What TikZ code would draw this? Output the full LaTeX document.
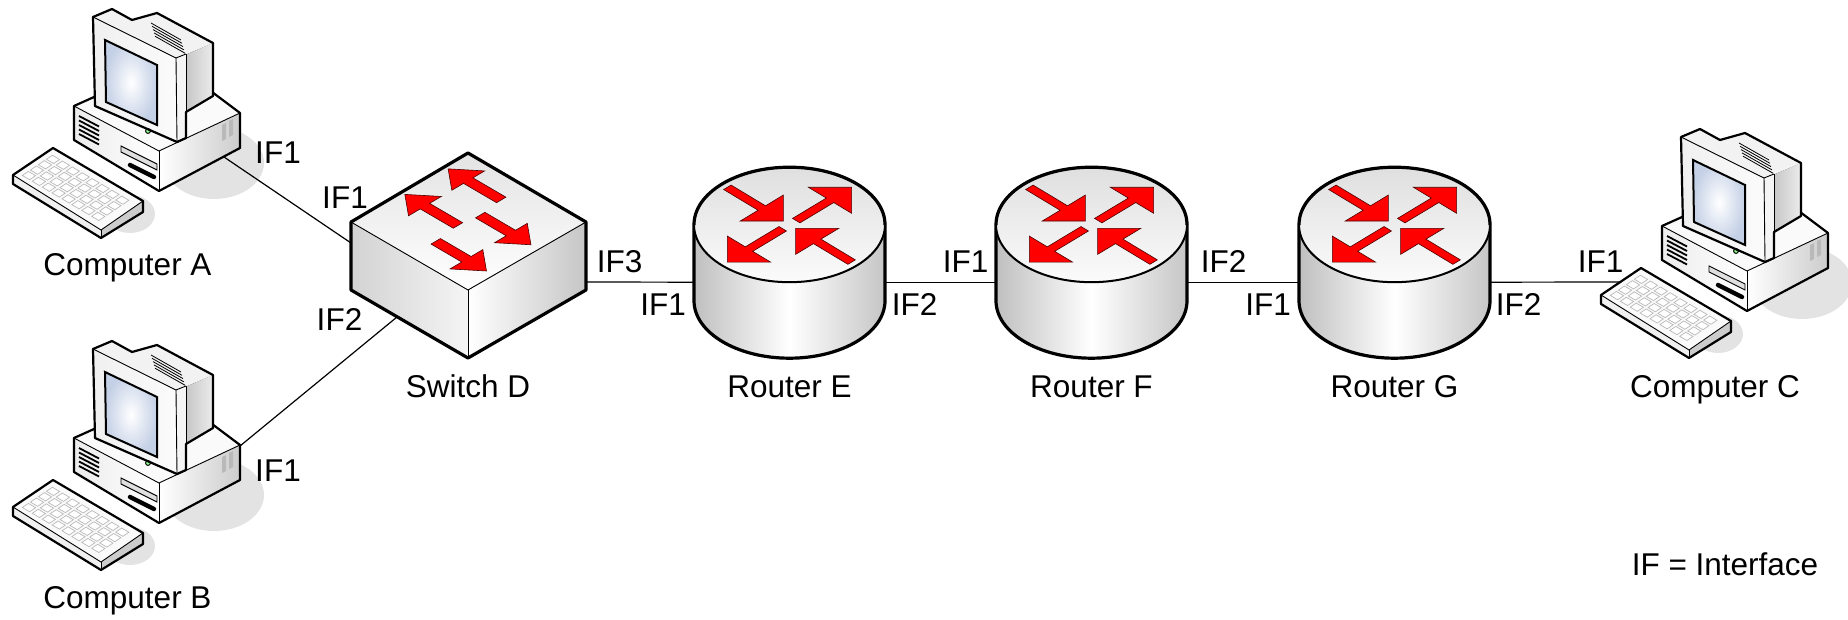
\documentclass[tikz,border=0pt]{standalone}
\usepackage{fontspec}
\setmainfont{Liberation Sans}
\usepackage{tikz}
\usetikzlibrary{calc}

\definecolor{screenblue}{RGB}{196,208,230}
\newcommand{\lblfont}{\fontsize{15.75}{18}\selectfont}

\tikzset{
  link/.style={line width=0.6pt},
  devout/.style={line width=1.6pt, line join=round},
  pcout/.style={line width=1.1pt, line join=round},
  thinedge/.style={line width=0.45pt},
  redarrow/.style={fill=red, draw=black!70!red, line width=0.3pt},
  keycap/.style={fill=white, draw=gray!55, line width=0.35pt},
  iflabel/.style={anchor=base, inner sep=0pt, font=\lblfont},
  devlabel/.style={anchor=base, inner sep=0pt, font=\lblfont},
  pics/router/.style={code={
    \draw[devout, left color=gray!50, right color=gray!45, middle color=white]
      (-95.5,0) -- (-95.5,76) arc[start angle=180, end angle=0, x radius=95.5, y radius=57.5] -- (95.5,0) -- cycle;
    \draw[line width=1pt, top color=gray!25, bottom color=gray!3] (0,0) ellipse [x radius=95.5, y radius=57.5];
    \draw[devout] (-95.5,0) arc[start angle=180, end angle=0, x radius=95.5, y radius=-57.5];
    \begin{scope}[yscale=0.602, scale=95.5]
      \foreach \ang in {45,225}
        \draw[redarrow, rotate=\ang] (0.1,-0.055) -- (0.6,-0.055) -- (0.6,-0.32) -- (0.92,0) -- (0.6,0.32) -- (0.6,0.055) -- (0.1,0.055) -- cycle;
      \foreach \ang in {135,315}
        \draw[redarrow, rotate=\ang] (0.92,-0.055) -- (0.41,-0.055) -- (0.41,-0.32) -- (0.09,0) -- (0.41,0.32) -- (0.41,0.055) -- (0.92,0.055) -- cycle;
    \end{scope}
    \coordinate (-west) at (-95.5,57.5);
    \coordinate (-east) at (95.5,57.5);
  }},
  pics/switchbox/.style={code={
    \fill[left color=gray!35, right color=gray!8] (-117,69) -- (0,137) -- (0,205) -- (-117,137) -- cycle;
    \fill[left color=white, right color=gray!45] (0,137) -- (118,69) -- (118,137) -- (0,205) -- cycle;
    \fill[top color=gray!22, bottom color=white] (0,0) -- (118,69) -- (0,137) -- (-117,69) -- cycle;
    \draw[thinedge] (-117,69) -- (0,137) -- (118,69);
    \draw[thinedge] (0,137) -- (0,205);
    \draw[devout] (0,0) -- (118,69) -- (118,137) -- (0,205) -- (-117,137) -- (-117,69) -- cycle;
    \begin{scope}[x={(59pt,-34.5pt)}, y={(-58.5pt,-34.5pt)}]
      \foreach \t in {0.20,0.57}
        \draw[redarrow] (0.48,\t-0.04) -- (0.20,\t-0.04) -- (0.20,\t-0.14) -- (0.03,\t) -- (0.20,\t+0.14) -- (0.20,\t+0.04) -- (0.48,\t+0.04) -- cycle;
      \foreach \t in {0.40,0.78}
        \draw[redarrow] (0.50,\t-0.04) -- (0.76,\t-0.04) -- (0.76,\t-0.14) -- (0.93,\t) -- (0.76,\t+0.14) -- (0.76,\t+0.04) -- (0.50,\t+0.04) -- cycle;
    \end{scope}
    \coordinate (-west) at (-117,90);
    \coordinate (-south) at (-71,164);
    \coordinate (-east) at (118,129);
  }},
  pics/computer/.style={code={
    \fill[gray!22] (214,163) ellipse [x radius=50, y radius=36];
    \fill[gray!22] (130,214) ellipse [x radius=25, y radius=19];
    % keyboard
    \fill[gray!12] (13,175) -- (101,230) -- (101,238) -- (13,184) -- cycle;
    \fill[gray!40] (101,230) -- (143,201) -- (143,212) -- (101,238) -- cycle;
    \fill[gray!4] (13,175) -- (53,148) -- (143,201) -- (101,230) -- cycle;
    \begin{scope}[shift={(13,175)}, x={(45pt,-26.5pt)}, y={(20pt,13.5pt)}]
      \foreach \i in {0,...,7}
        \foreach \j in {0,...,3}
          \draw[keycap] ({0.06+0.11*\i},{0.1+0.2*\j}) -- ++(0.08,0) -- ++(0,0.15) -- ++(-0.08,0) -- cycle;
    \end{scope}
    \draw[thinedge] (13,175) -- (101,230) -- (143,201);
    \draw[thinedge] (101,230) -- (101,238);
    \draw[pcout] (13,175) -- (53,148) -- (143,201) -- (143,212) -- (101,238) -- (13,184) -- cycle;
    % case
    \fill[left color=gray!15, right color=white] (74,106) -- (159,151) -- (159,191) -- (74,140) -- cycle;
    \fill[left color=white, right color=gray!40] (159,151) -- (240,113) -- (240,148) -- (159,191) -- cycle;
    \fill[gray!4] (74,106) -- (172,62) -- (240,113) -- (159,151) -- cycle;
    \draw[thinedge] (74,106) -- (159,151) -- (240,113);
    \draw[thinedge] (159,151) -- (159,191);
    \draw[pcout] (74,106) -- (172,62) -- (240,113) -- (240,148) -- (159,191) -- (74,140) -- cycle;
    \foreach \k in {0,...,4}
      \draw[line width=0.9pt] (79,{116+4.5*\k}) -- (99,{126.5+4.5*\k});
    \draw[thinedge, fill=gray!25] (121,146) -- (157,164) -- (157,170) -- (121,152) -- cycle;
    \draw[line width=2.2pt, line cap=round] (130,165) -- (154,177);
    \fill[gray!55] (222,125) -- (226,123) -- (226,139) -- (222,141) -- cycle;
    \fill[gray!55] (229,121) -- (233,119) -- (233,135) -- (229,137) -- cycle;
    % monitor
    \fill[left color=gray!45, right color=gray!15] (185,55) -- (213,43) -- (213,96) -- (186,112) -- cycle;
    \fill[gray!8] (176,58) -- (186,54) -- (186,138) -- (177,142) -- cycle;
    \fill[gray!10] (93,17) -- (112,9) -- (132,20) -- (157,13) -- (213,43) -- (186,54) -- (176,58) -- cycle;
    \fill[left color=gray!12, right color=gray!3] (93,17) -- (176,58) -- (177,142) -- (95,106) -- cycle;
    \foreach \k in {0,...,4}
      \draw[line width=0.4pt] ({151+\k},{23+3.3*\k}) -- ({181+\k},{40+3.3*\k});
    \draw[line width=1pt, inner color=white, outer color=screenblue] (105,40) -- (157,65) -- (157,125) -- (106,102) -- cycle;
    \draw[line width=0.5pt, fill=green!45!white] (148,131) circle [radius=2.4];
    \draw[thinedge] (93,17) -- (176,58) -- (186,54);
    \draw[thinedge] (176,58) -- (177,142);
    \draw[thinedge] (186,54) -- (186,138);
    \draw[pcout] (93,17) -- (112,9) -- (132,20) -- (157,13) -- (213,43) -- (213,96) -- (186,112) -- (186,138) -- (177,142) -- (95,106) -- cycle;
    \coordinate (-case) at (224,157);
    \coordinate (-corner) at (240,114);
    \coordinate (-kbd) at (32,162);
  }}
}

\begin{document}
\begin{tikzpicture}[x=0.5pt, y=-0.5pt]
\useasboundingbox (0,0) rectangle (1848,620);

\pic (pcA) at (0,0) {computer};
\pic (pcB) at (0,332) {computer};
\pic (pcC) at (1588,120) {computer};
\pic (swD) at (468,153) {switchbox};
\pic (rtE) at (789.5,224.7) {router};
\pic (rtF) at (1091.5,224.7) {router};
\pic (rtG) at (1394.5,224.7) {router};

\draw [link] (pcA-case) -- (swD-west);
\draw [link] (pcB-corner) -- (swD-south);
\draw [link] (swD-east) -- (rtE-west);
\draw [link] (rtE-east) -- (rtF-west);
\draw [link] (rtF-east) -- (rtG-west);
\draw [link] (rtG-east) -- (pcC-kbd);

\node [devlabel] (labA) at (127.5,276) {Computer A};
\node [devlabel] (labB) at (127.5,608) {Computer B};
\node [devlabel] (labC) at (1715,397) {Computer C};
\node [devlabel] (labD) at (468,397) {Switch D};
\node [devlabel] (labE) at (789.5,397) {Router E};
\node [devlabel] (labF) at (1091.5,397) {Router F};
\node [devlabel] (labG) at (1394.5,397) {Router G};

\node [iflabel] (ifA) at (278,164) {IF1};
\node [iflabel] (ifDa) at (345,209) {IF1};
\node [iflabel] (ifDb) at (339.5,330) {IF2};
\node [iflabel] (ifB) at (278,481) {IF1};
\node [iflabel] (ifDc) at (619.5,273) {IF3};
\node [iflabel] (ifEa) at (663,315) {IF1};
\node [iflabel] (ifEb) at (914.5,315) {IF2};
\node [iflabel] (ifFa) at (965.5,273) {IF1};
\node [iflabel] (ifFb) at (1223.5,273) {IF2};
\node [iflabel] (ifGa) at (1268,316) {IF1};
\node [iflabel] (ifGb) at (1518.5,316) {IF2};
\node [iflabel] (ifC) at (1600.5,273) {IF1};
\node [iflabel] (legend) at (1725,575) {IF = Interface};

\end{tikzpicture}
\end{document}
